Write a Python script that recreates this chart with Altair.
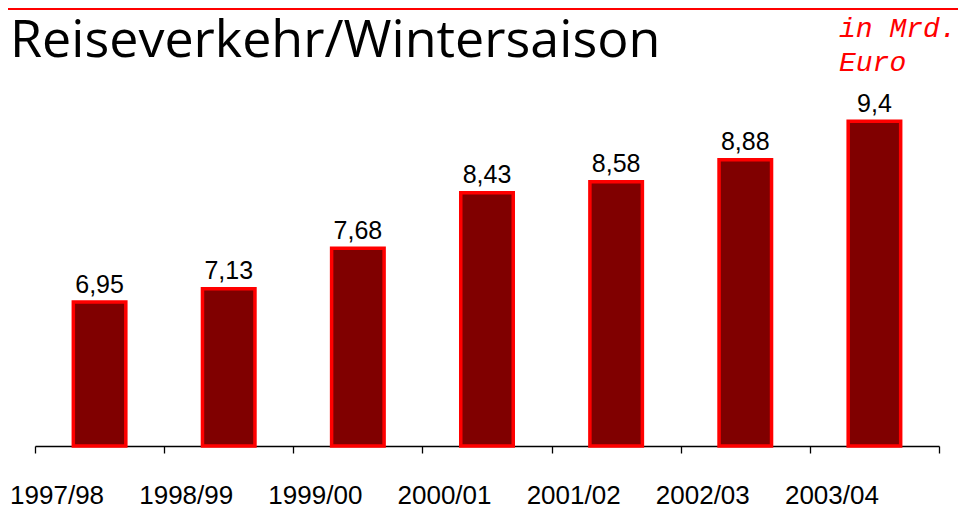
import altair as alt
import pandas as pd

seasons = ["1997/98", "1998/99", "1999/00", "2000/01", "2001/02", "2002/03", "2003/04"]
values = [6.95, 7.13, 7.68, 8.43, 8.58, 8.88, 9.4]
labels = [("%g" % v).replace(".", ",") for v in values]

title_text = "Reiseverkehr/Wintersaison"
unit_lines = ["in Mrd.", "Euro"]

df = pd.DataFrame({"season": seasons, "value": values, "label": labels})

W, H = 904, 369
PAD = {"left": 27, "top": 69, "right": 19, "bottom": 62}

x_enc = alt.X(
    "season:N",
    sort=seasons,
    scale=alt.Scale(paddingInner=0, paddingOuter=0),
    axis=alt.Axis(
        title=None,
        labelAngle=0,
        labelFont="Liberation Sans",
        labelFontSize=26,
        labelColor="black",
        labelBaseline="alphabetic",
        labelPadding=50,
        labelOffset=-43,
        tickSize=7,
        tickColor="black",
        tickWidth=1.3,
        tickBand="extent",
        domainColor="black",
        domainWidth=1.3,
        grid=False,
    ),
)
y_scale = alt.Scale(domain=[5, 10], zero=False, nice=False)

base = alt.Chart(df)

bars = base.mark_bar(
    size=52.5, fill="#800000", stroke="#ff0000", strokeWidth=3.5
).encode(
    x=x_enc,
    y=alt.Y("value:Q", scale=y_scale, axis=None),
    y2=alt.datum(5),
)

vlabels = base.mark_text(
    dy=-9.5, baseline="alphabetic", align="center",
    font="Liberation Sans", fontSize=25, color="black"
).encode(
    x=alt.X("season:N", sort=seasons),
    y=alt.Y("value:Q", scale=y_scale),
    text="label:N",
)

title = alt.Chart(pd.DataFrame({"t": [title_text]})).mark_text(
    align="left", baseline="alphabetic", font="Open Sans", fontSize=52, color="black"
).encode(x=alt.value(-25), y=alt.value(-20), text="t:N")

unit = alt.Chart(pd.DataFrame({"t": [0]})).mark_text(
    align="left", baseline="alphabetic", font="Liberation Mono", fontStyle="italic",
    fontSize=28, color="#ff0000", lineHeight=34
).encode(x=alt.value(804), y=alt.value(-40), text=alt.value(unit_lines))

topline = alt.Chart(pd.DataFrame({"t": [0]})).mark_rule(
    color="#ff0000", strokeWidth=2
).encode(x=alt.value(-27), x2=alt.value(W + 19), y=alt.value(-68))

chart = alt.layer(topline, title, unit, bars, vlabels).properties(
    width=W, height=H, padding=PAD, autosize=alt.AutoSizeParams(type="none"),
    background="white"
).configure_view(strokeWidth=0, stroke="transparent")

chart.save("out.html", embed_options={"renderer": "svg", "actions": False})
